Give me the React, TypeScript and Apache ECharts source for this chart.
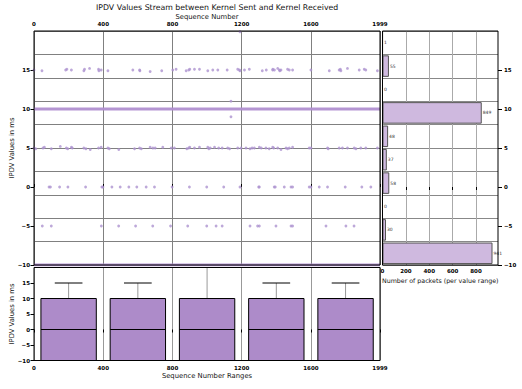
import React, { useEffect, useRef } from 'react';
import * as echarts from 'echarts';

const FONT = '"DejaVu Sans", Verdana, sans-serif';
const chartTitle = 'IPDV Values Stream between Kernel Sent and Kernel Received';

// tick labels
const seqTicks = [0, 400, 800, 1200, 1600, 1999];
const valueTicks = [-10, -5, 0, 5, 10, 15];
const countTicks = [0, 200, 400, 600, 800];

// histogram (bins of width 3 from -10 to 20)
const binStarts = [-10, -7, -4, -1, 2, 5, 8, 11, 14, 17];
const binCounts = [941, 30, 0, 58, 37, 48, 849, 0, 55, 1];

// dense bands of points (value, first seq, last seq)
const denseBandValues = [-10, 10];
const denseBandFrom = [0, 0];
const denseBandTo = [1999, 1999];

// sparse points [sequence, value]
const row15 = [
  [0, 15], [46, 14.9], [183, 15], [190, 15.1], [216, 15], [288, 14.9], [292, 15.1], [321, 15.2],
  [373, 15.1], [375, 14.9], [388, 15], [427, 14.9], [571, 15], [610, 15], [612, 14.9], [671, 14.8],
  [738, 14.9], [802, 15], [821, 15.1], [879, 14.9], [894, 15], [900, 15.1], [927, 15.1], [956, 15.1],
  [1004, 14.9], [1033, 15], [1062, 15], [1116, 15], [1177, 15.1], [1187, 15], [1190, 14.9], [1216, 15],
  [1244, 15.1], [1319, 14.9], [1342, 15], [1379, 15], [1380, 15.1], [1389, 15], [1408, 15.2], [1418, 15],
  [1420, 14.9], [1427, 15], [1465, 15.1], [1475, 15], [1494, 15], [1600, 15], [1706, 14.9], [1763, 15],
  [1770, 15.1], [1773, 14.9], [1811, 15.2], [1879, 15], [1908, 15.1], [1917, 15], [1984, 14.9],
];
const row5 = [
  [0, 5], [10, 4.9], [52, 5], [60, 5.1], [100, 4.9], [152, 5.2], [187, 5], [195, 4.9], [216, 5.1],
  [221, 5], [288, 5], [300, 4.9], [325, 4.8], [373, 5], [388, 5.1], [427, 5], [435, 4.9], [490, 4.8],
  [581, 4.9], [610, 5], [620, 4.9], [671, 5.1], [687, 5], [700, 5], [744, 5.1], [793, 5], [811, 5],
  [883, 4.9], [894, 5], [900, 5.1], [927, 5], [956, 5.1], [1004, 5.1], [1010, 4.9], [1018, 5],
  [1043, 5.1], [1067, 5], [1087, 5], [1119, 5], [1130, 4.9], [1177, 5], [1196, 5], [1225, 5],
  [1248, 4.9], [1260, 5], [1273, 5], [1302, 5.1], [1313, 5], [1340, 5], [1359, 4.9], [1379, 5.1],
  [1385, 5], [1408, 5], [1427, 4.8], [1456, 5], [1465, 4.9], [1475, 5], [1494, 5.1], [1590, 5],
  [1600, 5], [1696, 5], [1700, 4.9], [1763, 5], [1782, 5], [1811, 5], [1850, 5], [1860, 4.9],
  [1888, 5], [1917, 5], [1984, 5],
];
const row0 = [
  [87, 0], [95, 0], [148, 0], [196, 0], [298, 0], [392, 0], [398, 0], [450, 0], [498, 0], [548, 0],
  [594, 0], [648, 0], [696, 0], [798, 0], [898, 0], [998, 0], [1096, 0], [1190, 0], [1298, 0],
  [1302, 0], [1388, 0], [1394, 0], [1446, 0], [1485, 0], [1494, 0], [1590, 0], [1600, 0], [1648, 0],
  [1696, 0], [1798, 0], [1894, 0], [1946, 0],
];
const rowMinus5 = [
  [48, -5], [100, -5], [389, -5], [489, -5], [587, -5], [686, -5], [789, -5], [888, -5], [998, -5],
  [1052, -5], [1087, -5], [1248, -5], [1292, -5], [1302, -5], [1398, -5], [1485, -5], [1494, -5],
  [1687, -5], [1802, -5], [1849, -5],
];
const outliers = [[1190, 19.9], [1138, 11], [1138, 9]];

// box plot per range of 400 sequence numbers
const boxCenters = [200, 600, 1000, 1400, 1800];
const boxMin = [-10, -10, -10, -10, -10];
const boxQ1 = [-10, -10, -10, -10, -10];
const boxMedian = [0, 0, 0, 0, 0];
const boxQ3 = [10, 10, 10, 10, 10];
const boxMax = [15, 15, 20, 15, 15];

const fmt = (v: number) => (v < 0 ? '\u2212' + Math.abs(v) : String(v));

const POINT_COLOR = '#ad92d0';
const BAND_COLOR = '#b08fd0';

export default function App() {
  const ref = useRef<HTMLDivElement>(null);
  useEffect(() => {
    if (!ref.current) return;
    const chart = echarts.init(ref.current, undefined, { renderer: 'svg' });
    const tickLabel = { fontFamily: FONT, fontSize: 5.5, fontWeight: 'bold' as const, color: '#000' };
    const nameStyle = { fontFamily: FONT, fontSize: 6.8, color: '#111' };
    const boxHalf = 160;
    const capHalf = 80;
    const gridBase = { show: true, borderColor: '#000', borderWidth: 1, z: 10, backgroundColor: 'transparent', containLabel: false, outerBoundsMode: 'none' };

    const bandSeries = denseBandValues.map((v, i) => ({
      type: 'line',
      xAxisIndex: 0,
      yAxisIndex: 0,
      data: [[denseBandFrom[i], v], [denseBandTo[i], v]],
      symbol: 'none',
      lineStyle: { color: BAND_COLOR, width: 3, opacity: 0.95 },
      z: 2,
    }));

    const option: any = {
      animation: false,
      backgroundColor: '#fff',
      title: {
        text: chartTitle,
        left: 96,
        top: 3,
        padding: 0,
        textStyle: { fontFamily: FONT, fontSize: 7.8, fontWeight: 'normal', color: '#111' },
      },
      grid: [
        { ...gridBase, left: 34, top: 31, width: 346, height: 234 },
        { ...gridBase, left: 382.5, top: 31, width: 115.5, height: 234 },
        { ...gridBase, left: 34, top: 267.5, width: 346, height: 93 },
      ],
      xAxis: [
        {
          type: 'value', gridIndex: 0, position: 'top', min: 0, max: 1999, interval: 400,
          name: 'Sequence Number', nameLocation: 'middle', nameGap: 10.5, nameMoveOverlap: false, nameTextStyle: nameStyle,
          axisLine: { show: false },
          axisTick: { show: true, length: 3, customValues: seqTicks, lineStyle: { color: '#000' } },
          axisLabel: { ...tickLabel, margin: 4, customValues: seqTicks, formatter: fmt },
          splitLine: { show: true, lineStyle: { color: '#808080', width: 1 } },
        },
        {
          type: 'value', gridIndex: 1, position: 'bottom', min: 0, max: 988, interval: 200,
          name: 'Number of packets (per value range)', nameLocation: 'middle', nameGap: 12, nameMoveOverlap: false, nameTextStyle: { ...nameStyle, fontSize: 6.3 },
          axisLine: { show: false },
          axisTick: { show: true, length: 3, customValues: countTicks, lineStyle: { color: '#000' } },
          axisLabel: { ...tickLabel, margin: 3, customValues: countTicks, formatter: fmt },
          splitLine: { show: true, lineStyle: { color: '#aaaaaa', width: 1 } },
        },
        {
          type: 'value', gridIndex: 2, position: 'bottom', min: 0, max: 1999, interval: 400,
          name: 'Sequence Number Ranges', nameLocation: 'middle', nameGap: 11.5, nameMoveOverlap: false, nameTextStyle: nameStyle,
          axisLine: { show: false },
          axisTick: { show: true, length: 3, customValues: seqTicks, lineStyle: { color: '#000' } },
          axisLabel: { ...tickLabel, margin: 4, customValues: seqTicks, formatter: fmt },
          splitLine: { show: true, lineStyle: { color: '#999999', width: 1 } },
        },
      ],
      yAxis: [
        {
          type: 'value', gridIndex: 0, position: 'left', min: -10, max: 20, interval: 5,
          name: 'IPDV Values in ms', nameLocation: 'middle', nameGap: 18.5, nameMoveOverlap: false, nameTextStyle: nameStyle,
          axisLine: { show: false },
          axisTick: { show: true, length: 3.5, customValues: valueTicks, lineStyle: { color: '#000' } },
          axisLabel: { ...tickLabel, margin: 4, customValues: valueTicks, formatter: fmt },
          splitLine: { show: false },
        },
        {
          type: 'value', gridIndex: 0, position: 'left', min: -10, max: 20, interval: 3,
          axisLine: { show: false }, axisTick: { show: false }, axisLabel: { show: false },
          splitLine: { show: true, lineStyle: { color: '#808080', width: 1 } },
        },
        {
          type: 'category', gridIndex: 1, position: 'left', data: binStarts.map(String),
          axisLine: { show: false }, axisTick: { show: false, interval: 0 }, axisLabel: { show: false, interval: 0 },
          splitLine: { show: true, interval: 0, lineStyle: { color: '#888888', width: 1 } },
        },
        {
          type: 'value', gridIndex: 1, position: 'right', min: -10, max: 20, interval: 5,
          axisLine: { show: false },
          axisTick: { show: true, length: 4, customValues: valueTicks, lineStyle: { color: '#000' } },
          axisLabel: { ...tickLabel, margin: 6, customValues: valueTicks, formatter: fmt },
          splitLine: { show: false },
        },
        {
          type: 'value', gridIndex: 2, position: 'left', min: -10, max: 20, interval: 5,
          name: 'IPDV Values in ms', nameLocation: 'middle', nameGap: 18.5, nameMoveOverlap: false, nameTextStyle: nameStyle,
          axisLine: { show: false },
          axisTick: { show: true, length: 3.5, customValues: valueTicks, lineStyle: { color: '#000' } },
          axisLabel: { ...tickLabel, margin: 4, customValues: valueTicks, formatter: fmt },
          splitLine: { show: false },
        },
      ],
      series: [
        ...bandSeries,
        {
          type: 'scatter', xAxisIndex: 0, yAxisIndex: 0,
          data: [...row15, ...row5, ...row0, ...rowMinus5, ...outliers],
          symbol: 'circle', symbolSize: 2.8,
          itemStyle: { color: POINT_COLOR },
          z: 3,
        },
        {
          type: 'bar', xAxisIndex: 1, yAxisIndex: 2,
          data: binCounts,
          barCategoryGap: '8%',
          itemStyle: { color: '#cfb9df', borderColor: '#555555', borderWidth: 1 },
          label: { show: true, position: 'right', distance: 1, fontFamily: FONT, fontSize: 4.5, color: '#333' },
        },
        {
          type: 'custom', xAxisIndex: 2, yAxisIndex: 4,
          data: boxCenters.map((c, i) => [c, boxMin[i], boxQ1[i], boxMedian[i], boxQ3[i], boxMax[i]]),
          renderItem: (params: any, api: any) => {
            const c = api.value(0);
            const mn = api.value(1), q1 = api.value(2), md = api.value(3), q3 = api.value(4), mx = api.value(5);
            const pL = api.coord([c - boxHalf, q3]);
            const pR = api.coord([c + boxHalf, q1]);
            const pC = api.coord([c, md]);
            const pMax = api.coord([c, mx]);
            const pMin = api.coord([c, mn]);
            const capL = api.coord([c - capHalf, mx])[0];
            const capR = api.coord([c + capHalf, mx])[0];
            return {
              type: 'group',
              children: [
                { type: 'line', shape: { x1: pC[0], y1: pL[1], x2: pC[0], y2: pMax[1] }, style: { stroke: '#999999', lineWidth: 1 } },
                { type: 'line', shape: { x1: capL, y1: pMax[1], x2: capR, y2: pMax[1] }, style: { stroke: '#000', lineWidth: 1 } },
                { type: 'line', shape: { x1: pC[0], y1: pR[1], x2: pC[0], y2: pMin[1] }, style: { stroke: '#999999', lineWidth: 1 } },
                { type: 'line', shape: { x1: capL, y1: pMin[1], x2: capR, y2: pMin[1] }, style: { stroke: '#000', lineWidth: 1 } },
                { type: 'rect', shape: { x: pL[0], y: pL[1], width: pR[0] - pL[0], height: pR[1] - pL[1] }, style: { fill: '#ad8bc9', stroke: '#000', lineWidth: 1 } },
                { type: 'line', shape: { x1: pL[0], y1: pC[1], x2: pR[0], y2: pC[1] }, style: { stroke: '#000', lineWidth: 1 } },
              ],
            };
          },
          z: 3,
        },
      ],
    };
    chart.setOption(option);
    return () => chart.dispose();
  }, []);
  return <div ref={ref} style={{ position: 'fixed', left: 0, top: 0, width: 522, height: 389 }} />;
}
